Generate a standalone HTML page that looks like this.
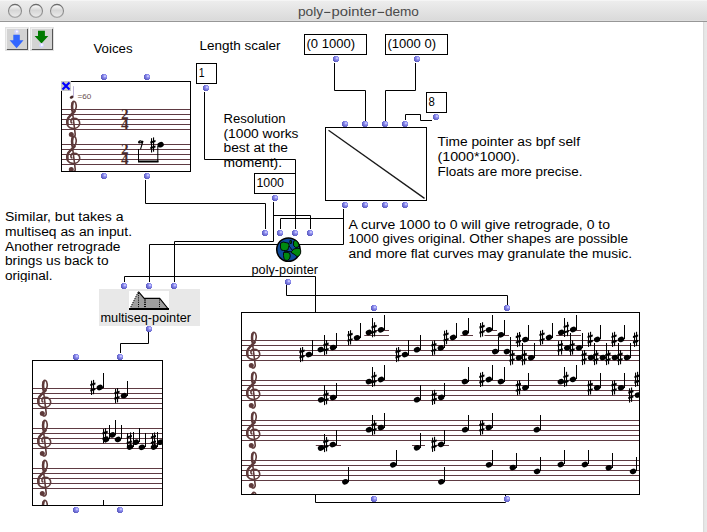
<!DOCTYPE html>
<html><head><meta charset="utf-8"><style>
html,body{margin:0;padding:0;background:#fff;overflow:hidden}
svg{display:block;font-family:"Liberation Sans",sans-serif}
</style></head><body>
<svg width="707" height="532" viewBox="0 0 707 532">

<defs>
<linearGradient id="tb" x1="0" y1="0" x2="0" y2="1">
 <stop offset="0" stop-color="#eeeeee"/><stop offset="1" stop-color="#d9d9d9"/></linearGradient>
<linearGradient id="rs" x1="0" y1="0" x2="1" y2="0">
 <stop offset="0" stop-color="#d6d6d6"/><stop offset="0.4" stop-color="#e6e6e6"/><stop offset="1" stop-color="#e9e9e9"/></linearGradient>
<linearGradient id="tl" x1="0" y1="0" x2="0" y2="1">
 <stop offset="0" stop-color="#cfcfcf"/><stop offset="0.15" stop-color="#f2f2f2"/><stop offset="0.45" stop-color="#d6d6d6"/><stop offset="1" stop-color="#ececec"/></linearGradient>
<linearGradient id="tls" x1="0" y1="0" x2="0" y2="1">
 <stop offset="0" stop-color="#6a6a6a"/><stop offset="1" stop-color="#a8a8a8"/></linearGradient>
<radialGradient id="dot" cx="0.66" cy="0.36" r="0.62">
 <stop offset="0" stop-color="#e4e4ff"/><stop offset="0.4" stop-color="#9090f2"/><stop offset="1" stop-color="#6060c4"/></radialGradient>
</defs>
<rect x="0" y="0" width="707" height="21" fill="url(#tb)"/>
<rect x="0" y="0" width="707" height="1" fill="#f5f5f5"/>
<rect x="0" y="20" width="707" height="1" fill="#dfdfdf"/>
<rect x="0" y="21" width="707" height="1" fill="#979797"/>
<rect x="703" y="22" width="4" height="510" fill="url(#rs)"/>
<circle cx="15" cy="10.9" r="6.5" fill="url(#tl)" stroke="url(#tls)" stroke-width="1.1"/>
<circle cx="36" cy="10.9" r="6.5" fill="url(#tl)" stroke="url(#tls)" stroke-width="1.1"/>
<circle cx="57" cy="10.9" r="6.5" fill="url(#tl)" stroke="url(#tls)" stroke-width="1.1"/>
<text x="297.9" y="15.8" font-size="13.5" fill="#4a4a4a" textLength="25.2" lengthAdjust="spacingAndGlyphs">poly</text>
<rect x="324.2" y="11.9" width="6.2" height="1.1" fill="#4a4a4a"/>
<text x="331.5" y="15.8" font-size="13.5" fill="#4a4a4a" textLength="45.3" lengthAdjust="spacingAndGlyphs">pointer</text>
<rect x="377.6" y="11.9" width="6.6" height="1.1" fill="#4a4a4a"/>
<text x="384.9" y="15.8" font-size="13.5" fill="#4a4a4a" textLength="34" lengthAdjust="spacingAndGlyphs">demo</text>
<rect x="5" y="27" width="24" height="24" fill="#e2e2e2"/>
<rect x="6" y="28" width="22" height="22" fill="#d3d3d3"/>
<rect x="6" y="28" width="21" height="1" fill="#f0f0f0"/>
<rect x="6" y="28" width="1" height="21" fill="#f0f0f0"/>
<rect x="27" y="29" width="1" height="21" fill="#555"/>
<rect x="7" y="49" width="21" height="1" fill="#555"/>
<rect x="30" y="27" width="24" height="24" fill="#e2e2e2"/>
<rect x="31" y="28" width="22" height="22" fill="#d3d3d3"/>
<rect x="31" y="28" width="21" height="1" fill="#f0f0f0"/>
<rect x="31" y="28" width="1" height="21" fill="#f0f0f0"/>
<rect x="52" y="29" width="1" height="21" fill="#555"/>
<rect x="32" y="49" width="21" height="1" fill="#555"/>
<circle cx="16.6" cy="31.8" r="2.4" fill="#d4d4ff"/><circle cx="16.9" cy="31.6" r="1" fill="#fff"/>
<polygon points="13.3,34.7 19.8,34.7 19.8,40.3 23.5,40.3 16.6,48.2 9.6,40.3 13.3,40.3" fill="#3366ff"/>
<polygon points="38,30.8 44.9,30.8 44.9,36 48.3,36 41.5,43.6 34.6,36 38,36" fill="#007a00"/>
<circle cx="41.6" cy="45.3" r="2.4" fill="#d4d4ff"/><circle cx="41.9" cy="45.1" r="1" fill="#fff"/>
<text x="93.5" y="53" font-size="12" fill="#000" textLength="39" lengthAdjust="spacingAndGlyphs">Voices</text>
<text x="199.5" y="50" font-size="12" fill="#000" textLength="81" lengthAdjust="spacingAndGlyphs">Length scaler</text>
<rect x="304.5" y="34.5" width="62" height="20" fill="#fff" stroke="#000" stroke-width="1"/>
<text x="306.5" y="48" font-size="12" fill="#000" textLength="48.5" lengthAdjust="spacingAndGlyphs">(0 1000)</text>
<rect x="385.5" y="34.5" width="62" height="20" fill="#fff" stroke="#000" stroke-width="1"/>
<text x="387.5" y="48" font-size="12" fill="#000" textLength="48.5" lengthAdjust="spacingAndGlyphs">(1000 0)</text>
<rect x="196.5" y="63.5" width="20" height="20" fill="#fff" stroke="#000" stroke-width="1"/>
<text x="198.8" y="76.9" font-size="12" fill="#000" textLength="5.8" lengthAdjust="spacingAndGlyphs">1</text>
<rect x="426.5" y="92.5" width="20" height="20" fill="#fff" stroke="#000" stroke-width="1"/>
<text x="428.6" y="106" font-size="12" fill="#000" textLength="6.3" lengthAdjust="spacingAndGlyphs">8</text>
<rect x="254.5" y="173.5" width="41" height="20" fill="#fff" stroke="#000" stroke-width="1"/>
<text x="256.5" y="187.2" font-size="12" fill="#000" textLength="27.5" lengthAdjust="spacingAndGlyphs">1000</text>
<text x="223.5" y="122.8" font-size="12" fill="#000" textLength="62" lengthAdjust="spacingAndGlyphs">Resolution</text>
<text x="223.5" y="137.6" font-size="12" fill="#000" textLength="75" lengthAdjust="spacingAndGlyphs">(1000 works</text>
<text x="223.5" y="152.4" font-size="12" fill="#000" textLength="64.5" lengthAdjust="spacingAndGlyphs">best at the</text>
<text x="223.5" y="167.2" font-size="12" fill="#000" textLength="58.5" lengthAdjust="spacingAndGlyphs">moment).</text>
<text x="437.5" y="146" font-size="12" fill="#000" textLength="142.5" lengthAdjust="spacingAndGlyphs">Time pointer as bpf self</text>
<text x="437.5" y="161" font-size="12" fill="#000" textLength="82.5" lengthAdjust="spacingAndGlyphs">(1000*1000).</text>
<text x="437.5" y="176" font-size="12" fill="#000" textLength="145" lengthAdjust="spacingAndGlyphs">Floats are more precise.</text>
<text x="5" y="220.8" font-size="12" fill="#000" textLength="118.5" lengthAdjust="spacingAndGlyphs">Similar, but takes a</text>
<text x="5" y="235.7" font-size="12" fill="#000" textLength="127" lengthAdjust="spacingAndGlyphs">multiseq as an input.</text>
<text x="5" y="250.5" font-size="12" fill="#000" textLength="115.5" lengthAdjust="spacingAndGlyphs">Another retrograde</text>
<text x="5" y="265.4" font-size="12" fill="#000" textLength="103.5" lengthAdjust="spacingAndGlyphs">brings us back to</text>
<svg x="0" y="268" width="100" height="14" viewBox="0 268 100 14" overflow="hidden">
<text x="5" y="280.2" font-size="12" fill="#000" textLength="47.5" lengthAdjust="spacingAndGlyphs">original.</text>
</svg>
<text x="348.5" y="228.6" font-size="12" fill="#000" textLength="261.5" lengthAdjust="spacingAndGlyphs">A curve 1000 to 0 will give retrograde, 0 to</text>
<text x="348.5" y="243.4" font-size="12" fill="#000" textLength="279.5" lengthAdjust="spacingAndGlyphs">1000 gives original. Other shapes are possible</text>
<text x="348.5" y="258.2" font-size="12" fill="#000" textLength="283.5" lengthAdjust="spacingAndGlyphs">and more flat curves may granulate the music.</text>
<text x="251.5" y="274.1" font-size="12" fill="#000" textLength="66.5" lengthAdjust="spacingAndGlyphs">poly-pointer</text>
<polyline points="334.5,63.5 334.5,90.5 365.5,90.5 365.5,120.5" fill="none" stroke="#000" stroke-width="1" stroke-linecap="square"/>
<polyline points="415.5,63.5 415.5,90.5 385.5,90.5 385.5,120.5" fill="none" stroke="#000" stroke-width="1" stroke-linecap="square"/>
<polyline points="431.5,120.5 420.5,120.5 420.5,114.5 405.5,114.5 405.5,119.5" fill="none" stroke="#000" stroke-width="1" stroke-linecap="square"/>
<polyline points="204.5,92.5 204.5,159.5 295.5,159.5 295.5,228.5" fill="none" stroke="#000" stroke-width="1" stroke-linecap="square"/>
<polyline points="273.5,202.5 273.5,241.5 174.5,241.5 174.5,281.5" fill="none" stroke="#000" stroke-width="1" stroke-linecap="square"/>
<polyline points="273.5,215.5 310.5,215.5 310.5,228.5" fill="none" stroke="#000" stroke-width="1" stroke-linecap="square"/>
<polyline points="343.5,209.5 343.5,244.5 149.5,244.5 149.5,281.5" fill="none" stroke="#000" stroke-width="1" stroke-linecap="square"/>
<polyline points="343.5,218.5 280.5,218.5 280.5,228.5" fill="none" stroke="#000" stroke-width="1" stroke-linecap="square"/>
<polyline points="145.5,180.5 145.5,203.5 265.5,203.5 265.5,228.5" fill="none" stroke="#000" stroke-width="1" stroke-linecap="square"/>
<polyline points="286.5,285.5 286.5,295.5 507.5,295.5 507.5,304.5" fill="none" stroke="#000" stroke-width="1" stroke-linecap="square"/>
<polyline points="505.5,494.5 505.5,502.5 315.5,502.5 315.5,276.5 124.5,276.5 124.5,281.5" fill="none" stroke="#000" stroke-width="1" stroke-linecap="square"/>
<polyline points="148.5,332.5 148.5,343.5 120.5,343.5 120.5,352.5" fill="none" stroke="#000" stroke-width="1" stroke-linecap="square"/>
<rect x="61.5" y="81.5" width="129" height="90" fill="#fff" stroke="#000" stroke-width="1"/>
<rect x="325.5" y="127.5" width="101" height="73" fill="#fff" stroke="#000" stroke-width="1"/>
<line x1="328.5" y1="130.3" x2="424.5" y2="198.4" stroke="#1a1a1a" stroke-width="1.35"/>
<rect x="32.5" y="360.5" width="130" height="145" fill="#fff" stroke="#000" stroke-width="1"/>
<rect x="241.5" y="312.5" width="398" height="182" fill="#fff" stroke="#000" stroke-width="1"/>
<rect x="99" y="289" width="101" height="37" fill="#e8e8e8"/>
<rect x="129" y="291" width="40" height="19" fill="#fff"/>
<text x="100.5" y="322.2" font-size="12" fill="#000" textLength="90.5" lengthAdjust="spacingAndGlyphs">multiseq-pointer</text>
<svg x="62" y="82" width="128" height="89" viewBox="62 82 128 89" overflow="hidden">
<rect x="62" y="109" width="128" height="1" fill="#5e3a42"/>
<rect x="62" y="114" width="128" height="1" fill="#5e3a42"/>
<rect x="62" y="119" width="128" height="1" fill="#5e3a42"/>
<rect x="62" y="124" width="128" height="1" fill="#5e3a42"/>
<rect x="62" y="129" width="128" height="1" fill="#5e3a42"/>
<rect x="62" y="144" width="128" height="1" fill="#5e3a42"/>
<rect x="62" y="149" width="128" height="1" fill="#5e3a42"/>
<rect x="62" y="154" width="128" height="1" fill="#5e3a42"/>
<rect x="62" y="159" width="128" height="1" fill="#5e3a42"/>
<rect x="62" y="164" width="128" height="1" fill="#5e3a42"/>
<g transform="translate(62,109)"><path d="M10.4,14.3 C8.2,13.6 8.3,10 11.2,9.4 C15,8.9 18,11.5 17.7,14.5 C17.4,18 14,19.6 10.5,19.4 C6.5,19.1 4.6,16 4.9,12.6 C5.2,9 9,6 12,3 C14,0.5 14.6,-3 13.9,-5.5 C13.4,-7.6 11.6,-8.3 10.5,-6.6 C9.3,-4.2 9.6,-1.5 10.4,2.5 L13.2,25 C13.5,27.6 11.5,28.6 9.8,27.6" fill="none" stroke="#5e3a3a" stroke-width="1.6"/><path d="M12.6,2.4 C10,5 7.5,7 6.2,9.2 C5.2,11 5.1,13.5 5.6,15.5 M10.6,-6 C9.8,-4 9.9,-1.5 10.4,1.5" fill="none" stroke="#5e3a3a" stroke-width="2.5" stroke-linecap="round"/><circle cx="9.3" cy="25.6" r="2.5" fill="#5e3a3a"/></g>
<g transform="translate(62,144)"><path d="M10.4,14.3 C8.2,13.6 8.3,10 11.2,9.4 C15,8.9 18,11.5 17.7,14.5 C17.4,18 14,19.6 10.5,19.4 C6.5,19.1 4.6,16 4.9,12.6 C5.2,9 9,6 12,3 C14,0.5 14.6,-3 13.9,-5.5 C13.4,-7.6 11.6,-8.3 10.5,-6.6 C9.3,-4.2 9.6,-1.5 10.4,2.5 L13.2,25 C13.5,27.6 11.5,28.6 9.8,27.6" fill="none" stroke="#5e3a3a" stroke-width="1.6"/><path d="M12.6,2.4 C10,5 7.5,7 6.2,9.2 C5.2,11 5.1,13.5 5.6,15.5 M10.6,-6 C9.8,-4 9.9,-1.5 10.4,1.5" fill="none" stroke="#5e3a3a" stroke-width="2.5" stroke-linecap="round"/><circle cx="9.3" cy="25.6" r="2.5" fill="#5e3a3a"/></g>
<text x="121" y="118.7" font-family="Liberation Serif" font-weight="bold" font-size="15.5" fill="#4a2c2c" textLength="7.6" lengthAdjust="spacingAndGlyphs">2</text>
<text x="121" y="128.9" font-family="Liberation Serif" font-weight="bold" font-size="15" fill="#4a2c2c" textLength="7.6" lengthAdjust="spacingAndGlyphs">4</text>
<text x="121" y="153.7" font-family="Liberation Serif" font-weight="bold" font-size="15.5" fill="#4a2c2c" textLength="7.6" lengthAdjust="spacingAndGlyphs">2</text>
<text x="121" y="163.9" font-family="Liberation Serif" font-weight="bold" font-size="15" fill="#4a2c2c" textLength="7.6" lengthAdjust="spacingAndGlyphs">4</text>
<ellipse cx="71.6" cy="97.2" rx="2" ry="1.4" transform="rotate(-25 71.6 97.2)" fill="#4a2a2a"/>
<rect x="73.1" y="86.2" width="0.6" height="11" fill="#9080c0"/>
<text x="77.5" y="99" font-size="7.5" fill="#6a5050" textLength="13.8" lengthAdjust="spacingAndGlyphs">=60</text>
<path d="M139,142 a1.3,1.3 0 1 1 1.8,1.2 L143,141 L140.5,149.3" fill="none" stroke="#000" stroke-width="1.1"/>
<circle cx="139.4" cy="142.3" r="1.3" fill="#000"/>
<rect x="138" y="149" width="1" height="13" fill="#000"/>
<rect x="138" y="160.5" width="20.5" height="2" fill="#000"/>
<rect x="157.3" y="146" width="1" height="16" fill="#000"/>
<g fill="#000"><rect x="151" y="138.2" width="1.1" height="14.3"/><rect x="153" y="137.4" width="1.1" height="14.3"/><g transform="translate(152.60,145.00)"><polygon points="-2.3,-1.4 2.9,-2.9 2.9,-5.0 -2.3,-3.5"/><polygon points="-2.3,4.0 2.9,2.5 2.9,0.4 -2.3,1.9"/></g></g>
<ellipse cx="160.6" cy="144.7" rx="3.25" ry="2.7" transform="rotate(-22 160.6 144.7)" fill="#000"/>
</svg>
<rect x="61" y="81" width="10" height="10" fill="#c8c8c8"/>
<path d="M62.5,82.5 L69.5,89.5 M69.5,82.5 L62.5,89.5" stroke="#0000ff" stroke-width="2.2"/>
<svg x="242" y="313" width="397" height="181" viewBox="242 313 397 181" overflow="hidden">
<rect x="242" y="340" width="397" height="1" fill="#5e3a42"/>
<rect x="242" y="345" width="397" height="1" fill="#5e3a42"/>
<rect x="242" y="350" width="397" height="1" fill="#5e3a42"/>
<rect x="242" y="355" width="397" height="1" fill="#5e3a42"/>
<rect x="242" y="360" width="397" height="1" fill="#5e3a42"/>
<g transform="translate(242,340)"><path d="M10.4,14.3 C8.2,13.6 8.3,10 11.2,9.4 C15,8.9 18,11.5 17.7,14.5 C17.4,18 14,19.6 10.5,19.4 C6.5,19.1 4.6,16 4.9,12.6 C5.2,9 9,6 12,3 C14,0.5 14.6,-3 13.9,-5.5 C13.4,-7.6 11.6,-8.3 10.5,-6.6 C9.3,-4.2 9.6,-1.5 10.4,2.5 L13.2,25 C13.5,27.6 11.5,28.6 9.8,27.6" fill="none" stroke="#5e3a3a" stroke-width="1.6"/><path d="M12.6,2.4 C10,5 7.5,7 6.2,9.2 C5.2,11 5.1,13.5 5.6,15.5 M10.6,-6 C9.8,-4 9.9,-1.5 10.4,1.5" fill="none" stroke="#5e3a3a" stroke-width="2.5" stroke-linecap="round"/><circle cx="9.3" cy="25.6" r="2.5" fill="#5e3a3a"/></g>
<rect x="242" y="380" width="397" height="1" fill="#5e3a42"/>
<rect x="242" y="385" width="397" height="1" fill="#5e3a42"/>
<rect x="242" y="390" width="397" height="1" fill="#5e3a42"/>
<rect x="242" y="395" width="397" height="1" fill="#5e3a42"/>
<rect x="242" y="400" width="397" height="1" fill="#5e3a42"/>
<g transform="translate(242,380)"><path d="M10.4,14.3 C8.2,13.6 8.3,10 11.2,9.4 C15,8.9 18,11.5 17.7,14.5 C17.4,18 14,19.6 10.5,19.4 C6.5,19.1 4.6,16 4.9,12.6 C5.2,9 9,6 12,3 C14,0.5 14.6,-3 13.9,-5.5 C13.4,-7.6 11.6,-8.3 10.5,-6.6 C9.3,-4.2 9.6,-1.5 10.4,2.5 L13.2,25 C13.5,27.6 11.5,28.6 9.8,27.6" fill="none" stroke="#5e3a3a" stroke-width="1.6"/><path d="M12.6,2.4 C10,5 7.5,7 6.2,9.2 C5.2,11 5.1,13.5 5.6,15.5 M10.6,-6 C9.8,-4 9.9,-1.5 10.4,1.5" fill="none" stroke="#5e3a3a" stroke-width="2.5" stroke-linecap="round"/><circle cx="9.3" cy="25.6" r="2.5" fill="#5e3a3a"/></g>
<rect x="242" y="420" width="397" height="1" fill="#5e3a42"/>
<rect x="242" y="425" width="397" height="1" fill="#5e3a42"/>
<rect x="242" y="430" width="397" height="1" fill="#5e3a42"/>
<rect x="242" y="435" width="397" height="1" fill="#5e3a42"/>
<rect x="242" y="440" width="397" height="1" fill="#5e3a42"/>
<g transform="translate(242,420)"><path d="M10.4,14.3 C8.2,13.6 8.3,10 11.2,9.4 C15,8.9 18,11.5 17.7,14.5 C17.4,18 14,19.6 10.5,19.4 C6.5,19.1 4.6,16 4.9,12.6 C5.2,9 9,6 12,3 C14,0.5 14.6,-3 13.9,-5.5 C13.4,-7.6 11.6,-8.3 10.5,-6.6 C9.3,-4.2 9.6,-1.5 10.4,2.5 L13.2,25 C13.5,27.6 11.5,28.6 9.8,27.6" fill="none" stroke="#5e3a3a" stroke-width="1.6"/><path d="M12.6,2.4 C10,5 7.5,7 6.2,9.2 C5.2,11 5.1,13.5 5.6,15.5 M10.6,-6 C9.8,-4 9.9,-1.5 10.4,1.5" fill="none" stroke="#5e3a3a" stroke-width="2.5" stroke-linecap="round"/><circle cx="9.3" cy="25.6" r="2.5" fill="#5e3a3a"/></g>
<rect x="242" y="460" width="397" height="1" fill="#5e3a42"/>
<rect x="242" y="465" width="397" height="1" fill="#5e3a42"/>
<rect x="242" y="470" width="397" height="1" fill="#5e3a42"/>
<rect x="242" y="475" width="397" height="1" fill="#5e3a42"/>
<rect x="242" y="480" width="397" height="1" fill="#5e3a42"/>
<g transform="translate(242,460)"><path d="M10.4,14.3 C8.2,13.6 8.3,10 11.2,9.4 C15,8.9 18,11.5 17.7,14.5 C17.4,18 14,19.6 10.5,19.4 C6.5,19.1 4.6,16 4.9,12.6 C5.2,9 9,6 12,3 C14,0.5 14.6,-3 13.9,-5.5 C13.4,-7.6 11.6,-8.3 10.5,-6.6 C9.3,-4.2 9.6,-1.5 10.4,2.5 L13.2,25 C13.5,27.6 11.5,28.6 9.8,27.6" fill="none" stroke="#5e3a3a" stroke-width="1.6"/><path d="M12.6,2.4 C10,5 7.5,7 6.2,9.2 C5.2,11 5.1,13.5 5.6,15.5 M10.6,-6 C9.8,-4 9.9,-1.5 10.4,1.5" fill="none" stroke="#5e3a3a" stroke-width="2.5" stroke-linecap="round"/><circle cx="9.3" cy="25.6" r="2.5" fill="#5e3a3a"/></g>
<g transform="translate(242,500)"><path d="M10.4,14.3 C8.2,13.6 8.3,10 11.2,9.4 C15,8.9 18,11.5 17.7,14.5 C17.4,18 14,19.6 10.5,19.4 C6.5,19.1 4.6,16 4.9,12.6 C5.2,9 9,6 12,3 C14,0.5 14.6,-3 13.9,-5.5 C13.4,-7.6 11.6,-8.3 10.5,-6.6 C9.3,-4.2 9.6,-1.5 10.4,2.5 L13.2,25 C13.5,27.6 11.5,28.6 9.8,27.6" fill="none" stroke="#5e3a3a" stroke-width="1.6"/><path d="M12.6,2.4 C10,5 7.5,7 6.2,9.2 C5.2,11 5.1,13.5 5.6,15.5 M10.6,-6 C9.8,-4 9.9,-1.5 10.4,1.5" fill="none" stroke="#5e3a3a" stroke-width="2.5" stroke-linecap="round"/><circle cx="9.3" cy="25.6" r="2.5" fill="#5e3a3a"/></g>
<rect x="364.3" y="335" width="24.69999999999999" height="1" fill="#5e3a42"/>
<rect x="460.4" y="335" width="12.600000000000023" height="1" fill="#5e3a42"/>
<rect x="484.5" y="335" width="24.5" height="1" fill="#5e3a42"/>
<rect x="556.1" y="335" width="24.899999999999977" height="1" fill="#5e3a42"/>
<rect x="375" y="330" width="14" height="1" fill="#5e3a42"/>
<rect x="484" y="330" width="13" height="1" fill="#5e3a42"/>
<rect x="567.8" y="330" width="13.200000000000045" height="1" fill="#5e3a42"/>
<rect x="315.8" y="445" width="25.19999999999999" height="1" fill="#5e3a42"/>
<rect x="412" y="445" width="13" height="1" fill="#5e3a42"/>
<rect x="436.2" y="445" width="12.800000000000011" height="1" fill="#5e3a42"/>
<g fill="#000"><rect x="300" y="347.8" width="1.1" height="14.3"/><rect x="302" y="347.0" width="1.1" height="14.3"/><g transform="translate(301.65,354.60)"><polygon points="-2.3,-1.4 2.9,-2.9 2.9,-5.0 -2.3,-3.5"/><polygon points="-2.3,4.0 2.9,2.5 2.9,0.4 -2.3,1.9"/></g></g>
<ellipse cx="308.9" cy="354.6" rx="3.25" ry="2.7" transform="rotate(-22 308.9 354.6)" fill="#000"/>
<rect x="312" y="340" width="1" height="15" fill="#000"/>
<ellipse cx="320.8" cy="349.6" rx="3.25" ry="2.7" transform="rotate(-22 320.8 349.6)" fill="#000"/>
<rect x="324" y="335" width="1" height="15" fill="#000"/>
<g fill="#000"><rect x="324" y="340.8" width="1.1" height="14.3"/><rect x="326" y="340.0" width="1.1" height="14.3"/><g transform="translate(325.75,347.60)"><polygon points="-2.3,-1.4 2.9,-2.9 2.9,-5.0 -2.3,-3.5"/><polygon points="-2.3,4.0 2.9,2.5 2.9,0.4 -2.3,1.9"/></g></g>
<ellipse cx="333" cy="347.6" rx="3.25" ry="2.7" transform="rotate(-22 333 347.6)" fill="#000"/>
<rect x="336" y="333" width="1" height="15" fill="#000"/>
<g fill="#000"><rect x="348" y="331.0" width="1.1" height="14.3"/><rect x="350" y="330.2" width="1.1" height="14.3"/><g transform="translate(349.75,337.80)"><polygon points="-2.3,-1.4 2.9,-2.9 2.9,-5.0 -2.3,-3.5"/><polygon points="-2.3,4.0 2.9,2.5 2.9,0.4 -2.3,1.9"/></g></g>
<ellipse cx="357" cy="337.8" rx="3.25" ry="2.7" transform="rotate(-22 357 337.8)" fill="#000"/>
<rect x="360" y="323" width="1" height="15" fill="#000"/>
<ellipse cx="368.9" cy="332.5" rx="3.25" ry="2.7" transform="rotate(-22 368.9 332.5)" fill="#000"/>
<rect x="372" y="318" width="1" height="14" fill="#000"/>
<g fill="#000"><rect x="372" y="323.0" width="1.1" height="14.3"/><rect x="374" y="322.2" width="1.1" height="14.3"/><g transform="translate(373.75,329.80)"><polygon points="-2.3,-1.4 2.9,-2.9 2.9,-5.0 -2.3,-3.5"/><polygon points="-2.3,4.0 2.9,2.5 2.9,0.4 -2.3,1.9"/></g></g>
<ellipse cx="381" cy="329.8" rx="3.25" ry="2.7" transform="rotate(-22 381 329.8)" fill="#000"/>
<rect x="384" y="315" width="1" height="15" fill="#000"/>
<g fill="#000"><rect x="396" y="347.8" width="1.1" height="14.3"/><rect x="398" y="347.0" width="1.1" height="14.3"/><g transform="translate(397.75,354.60)"><polygon points="-2.3,-1.4 2.9,-2.9 2.9,-5.0 -2.3,-3.5"/><polygon points="-2.3,4.0 2.9,2.5 2.9,0.4 -2.3,1.9"/></g></g>
<ellipse cx="405" cy="354.6" rx="3.25" ry="2.7" transform="rotate(-22 405 354.6)" fill="#000"/>
<rect x="408" y="340" width="1" height="15" fill="#000"/>
<ellipse cx="417" cy="349.7" rx="3.25" ry="2.7" transform="rotate(-22 417 349.7)" fill="#000"/>
<rect x="420" y="335" width="1" height="15" fill="#000"/>
<g fill="#000"><rect x="432" y="341.2" width="1.1" height="14.3"/><rect x="434" y="340.4" width="1.1" height="14.3"/><g transform="translate(433.55,348.00)"><polygon points="-2.3,-1.4 2.9,-2.9 2.9,-5.0 -2.3,-3.5"/><polygon points="-2.3,4.0 2.9,2.5 2.9,0.4 -2.3,1.9"/></g></g>
<ellipse cx="440.8" cy="348" rx="3.25" ry="2.7" transform="rotate(-22 440.8 348)" fill="#000"/>
<rect x="444" y="334" width="1" height="14" fill="#000"/>
<g fill="#000"><rect x="444" y="330.7" width="1.1" height="14.3"/><rect x="446" y="329.9" width="1.1" height="14.3"/><g transform="translate(445.75,337.50)"><polygon points="-2.3,-1.4 2.9,-2.9 2.9,-5.0 -2.3,-3.5"/><polygon points="-2.3,4.0 2.9,2.5 2.9,0.4 -2.3,1.9"/></g></g>
<ellipse cx="453" cy="337.5" rx="3.25" ry="2.7" transform="rotate(-22 453 337.5)" fill="#000"/>
<rect x="456" y="323" width="1" height="15" fill="#000"/>
<ellipse cx="465.4" cy="332.8" rx="3.25" ry="2.7" transform="rotate(-22 465.4 332.8)" fill="#000"/>
<rect x="468" y="318" width="1" height="15" fill="#000"/>
<g fill="#000"><rect x="480" y="323.0" width="1.1" height="14.3"/><rect x="482" y="322.2" width="1.1" height="14.3"/><g transform="translate(481.75,329.80)"><polygon points="-2.3,-1.4 2.9,-2.9 2.9,-5.0 -2.3,-3.5"/><polygon points="-2.3,4.0 2.9,2.5 2.9,0.4 -2.3,1.9"/></g></g>
<ellipse cx="489" cy="329.8" rx="3.25" ry="2.7" transform="rotate(-22 489 329.8)" fill="#000"/>
<rect x="492" y="315" width="1" height="15" fill="#000"/>
<ellipse cx="500.9" cy="334.8" rx="3.25" ry="2.7" transform="rotate(-22 500.9 334.8)" fill="#000"/>
<rect x="504" y="320" width="1" height="15" fill="#000"/>
<ellipse cx="495.2" cy="351.6" rx="3.25" ry="2.7" transform="rotate(-22 495.2 351.6)" fill="#000"/>
<rect x="498" y="337" width="1" height="15" fill="#000"/>
<ellipse cx="506.9" cy="351.6" rx="3.25" ry="2.7" transform="rotate(-22 506.9 351.6)" fill="#000"/>
<rect x="510" y="337" width="1" height="15" fill="#000"/>
<g fill="#000"><rect x="510" y="351.0" width="1.1" height="14.3"/><rect x="512" y="350.2" width="1.1" height="14.3"/><g transform="translate(511.75,357.80)"><polygon points="-2.3,-1.4 2.9,-2.9 2.9,-5.0 -2.3,-3.5"/><polygon points="-2.3,4.0 2.9,2.5 2.9,0.4 -2.3,1.9"/></g></g>
<ellipse cx="519" cy="357.8" rx="3.25" ry="2.7" transform="rotate(-22 519 357.8)" fill="#000"/>
<rect x="522" y="343" width="1" height="15" fill="#000"/>
<g fill="#000"><rect x="517" y="332.8" width="1.1" height="14.3"/><rect x="519" y="332.0" width="1.1" height="14.3"/><g transform="translate(518.05,339.60)"><polygon points="-2.3,-1.4 2.9,-2.9 2.9,-5.0 -2.3,-3.5"/><polygon points="-2.3,4.0 2.9,2.5 2.9,0.4 -2.3,1.9"/></g></g>
<ellipse cx="525.3" cy="339.6" rx="3.25" ry="2.7" transform="rotate(-22 525.3 339.6)" fill="#000"/>
<rect x="528" y="325" width="1" height="15" fill="#000"/>
<g fill="#000"><rect x="522" y="351.0" width="1.1" height="14.3"/><rect x="524" y="350.2" width="1.1" height="14.3"/><g transform="translate(523.85,357.80)"><polygon points="-2.3,-1.4 2.9,-2.9 2.9,-5.0 -2.3,-3.5"/><polygon points="-2.3,4.0 2.9,2.5 2.9,0.4 -2.3,1.9"/></g></g>
<ellipse cx="531.1" cy="357.8" rx="3.25" ry="2.7" transform="rotate(-22 531.1 357.8)" fill="#000"/>
<rect x="534" y="343" width="1" height="15" fill="#000"/>
<g fill="#000"><rect x="540" y="330.7" width="1.1" height="14.3"/><rect x="542" y="329.9" width="1.1" height="14.3"/><g transform="translate(541.75,337.50)"><polygon points="-2.3,-1.4 2.9,-2.9 2.9,-5.0 -2.3,-3.5"/><polygon points="-2.3,4.0 2.9,2.5 2.9,0.4 -2.3,1.9"/></g></g>
<ellipse cx="549" cy="337.5" rx="3.25" ry="2.7" transform="rotate(-22 549 337.5)" fill="#000"/>
<rect x="552" y="323" width="1" height="15" fill="#000"/>
<ellipse cx="561.2" cy="332.5" rx="3.25" ry="2.7" transform="rotate(-22 561.2 332.5)" fill="#000"/>
<rect x="564" y="318" width="1" height="14" fill="#000"/>
<g fill="#000"><rect x="564" y="322.7" width="1.1" height="14.3"/><rect x="567" y="321.9" width="1.1" height="14.3"/><g transform="translate(565.95,329.50)"><polygon points="-2.3,-1.4 2.9,-2.9 2.9,-5.0 -2.3,-3.5"/><polygon points="-2.3,4.0 2.9,2.5 2.9,0.4 -2.3,1.9"/></g></g>
<ellipse cx="573.2" cy="329.5" rx="3.25" ry="2.7" transform="rotate(-22 573.2 329.5)" fill="#000"/>
<rect x="576" y="315" width="1" height="15" fill="#000"/>
<g fill="#000"><rect x="558" y="341.1" width="1.1" height="14.3"/><rect x="561" y="340.3" width="1.1" height="14.3"/><g transform="translate(559.95,347.90)"><polygon points="-2.3,-1.4 2.9,-2.9 2.9,-5.0 -2.3,-3.5"/><polygon points="-2.3,4.0 2.9,2.5 2.9,0.4 -2.3,1.9"/></g></g>
<ellipse cx="567.2" cy="347.9" rx="3.25" ry="2.7" transform="rotate(-22 567.2 347.9)" fill="#000"/>
<rect x="570" y="333" width="1" height="15" fill="#000"/>
<g fill="#000"><rect x="570" y="341.1" width="1.1" height="14.3"/><rect x="572" y="340.3" width="1.1" height="14.3"/><g transform="translate(571.75,347.90)"><polygon points="-2.3,-1.4 2.9,-2.9 2.9,-5.0 -2.3,-3.5"/><polygon points="-2.3,4.0 2.9,2.5 2.9,0.4 -2.3,1.9"/></g></g>
<ellipse cx="579" cy="347.9" rx="3.25" ry="2.7" transform="rotate(-22 579 347.9)" fill="#000"/>
<rect x="582" y="333" width="1" height="15" fill="#000"/>
<g fill="#000"><rect x="582" y="350.8" width="1.1" height="14.3"/><rect x="584" y="350.0" width="1.1" height="14.3"/><g transform="translate(583.75,357.60)"><polygon points="-2.3,-1.4 2.9,-2.9 2.9,-5.0 -2.3,-3.5"/><polygon points="-2.3,4.0 2.9,2.5 2.9,0.4 -2.3,1.9"/></g></g>
<ellipse cx="591" cy="357.6" rx="3.25" ry="2.7" transform="rotate(-22 591 357.6)" fill="#000"/>
<rect x="594" y="343" width="1" height="15" fill="#000"/>
<g fill="#000"><rect x="588" y="332.6" width="1.1" height="14.3"/><rect x="590" y="331.8" width="1.1" height="14.3"/><g transform="translate(589.85,339.40)"><polygon points="-2.3,-1.4 2.9,-2.9 2.9,-5.0 -2.3,-3.5"/><polygon points="-2.3,4.0 2.9,2.5 2.9,0.4 -2.3,1.9"/></g></g>
<ellipse cx="597.1" cy="339.4" rx="3.25" ry="2.7" transform="rotate(-22 597.1 339.4)" fill="#000"/>
<rect x="600" y="325" width="1" height="14" fill="#000"/>
<g fill="#000"><rect x="594" y="350.8" width="1.1" height="14.3"/><rect x="596" y="350.0" width="1.1" height="14.3"/><g transform="translate(595.55,357.60)"><polygon points="-2.3,-1.4 2.9,-2.9 2.9,-5.0 -2.3,-3.5"/><polygon points="-2.3,4.0 2.9,2.5 2.9,0.4 -2.3,1.9"/></g></g>
<ellipse cx="602.8" cy="357.6" rx="3.25" ry="2.7" transform="rotate(-22 602.8 357.6)" fill="#000"/>
<rect x="606" y="343" width="1" height="15" fill="#000"/>
<g fill="#000"><rect x="606" y="350.8" width="1.1" height="14.3"/><rect x="608" y="350.0" width="1.1" height="14.3"/><g transform="translate(607.65,357.60)"><polygon points="-2.3,-1.4 2.9,-2.9 2.9,-5.0 -2.3,-3.5"/><polygon points="-2.3,4.0 2.9,2.5 2.9,0.4 -2.3,1.9"/></g></g>
<ellipse cx="614.9" cy="357.6" rx="3.25" ry="2.7" transform="rotate(-22 614.9 357.6)" fill="#000"/>
<rect x="618" y="343" width="1" height="15" fill="#000"/>
<g fill="#000"><rect x="612" y="332.6" width="1.1" height="14.3"/><rect x="614" y="331.8" width="1.1" height="14.3"/><g transform="translate(613.75,339.40)"><polygon points="-2.3,-1.4 2.9,-2.9 2.9,-5.0 -2.3,-3.5"/><polygon points="-2.3,4.0 2.9,2.5 2.9,0.4 -2.3,1.9"/></g></g>
<ellipse cx="621" cy="339.4" rx="3.25" ry="2.7" transform="rotate(-22 621 339.4)" fill="#000"/>
<rect x="624" y="325" width="1" height="14" fill="#000"/>
<g fill="#000"><rect x="618" y="350.8" width="1.1" height="14.3"/><rect x="620" y="350.0" width="1.1" height="14.3"/><g transform="translate(619.75,357.60)"><polygon points="-2.3,-1.4 2.9,-2.9 2.9,-5.0 -2.3,-3.5"/><polygon points="-2.3,4.0 2.9,2.5 2.9,0.4 -2.3,1.9"/></g></g>
<ellipse cx="627" cy="357.6" rx="3.25" ry="2.7" transform="rotate(-22 627 357.6)" fill="#000"/>
<rect x="630" y="343" width="1" height="15" fill="#000"/>
<g fill="#000"><rect x="634" y="332.6" width="1.1" height="14.3"/><rect x="636" y="331.8" width="1.1" height="14.3"/><g transform="translate(635.25,339.40)"><polygon points="-2.3,-1.4 2.9,-2.9 2.9,-5.0 -2.3,-3.5"/><polygon points="-2.3,4.0 2.9,2.5 2.9,0.4 -2.3,1.9"/></g></g>
<ellipse cx="642.5" cy="339.4" rx="3.25" ry="2.7" transform="rotate(-22 642.5 339.4)" fill="#000"/>
<rect x="645" y="325" width="1" height="14" fill="#000"/>
<ellipse cx="321.1" cy="399.8" rx="3.25" ry="2.7" transform="rotate(-22 321.1 399.8)" fill="#000"/>
<rect x="324" y="385" width="1" height="15" fill="#000"/>
<g fill="#000"><rect x="324" y="390.8" width="1.1" height="14.3"/><rect x="326" y="390.0" width="1.1" height="14.3"/><g transform="translate(325.75,397.60)"><polygon points="-2.3,-1.4 2.9,-2.9 2.9,-5.0 -2.3,-3.5"/><polygon points="-2.3,4.0 2.9,2.5 2.9,0.4 -2.3,1.9"/></g></g>
<ellipse cx="333" cy="397.6" rx="3.25" ry="2.7" transform="rotate(-22 333 397.6)" fill="#000"/>
<rect x="336" y="383" width="1" height="15" fill="#000"/>
<ellipse cx="368.9" cy="381.6" rx="3.25" ry="2.7" transform="rotate(-22 368.9 381.6)" fill="#000"/>
<rect x="372" y="367" width="1" height="15" fill="#000"/>
<g fill="#000"><rect x="372" y="372.7" width="1.1" height="14.3"/><rect x="374" y="371.9" width="1.1" height="14.3"/><g transform="translate(373.75,379.50)"><polygon points="-2.3,-1.4 2.9,-2.9 2.9,-5.0 -2.3,-3.5"/><polygon points="-2.3,4.0 2.9,2.5 2.9,0.4 -2.3,1.9"/></g></g>
<ellipse cx="381" cy="379.5" rx="3.25" ry="2.7" transform="rotate(-22 381 379.5)" fill="#000"/>
<rect x="384" y="365" width="1" height="15" fill="#000"/>
<ellipse cx="417" cy="399.7" rx="3.25" ry="2.7" transform="rotate(-22 417 399.7)" fill="#000"/>
<rect x="420" y="385" width="1" height="15" fill="#000"/>
<g fill="#000"><rect x="432" y="390.6" width="1.1" height="14.3"/><rect x="434" y="389.8" width="1.1" height="14.3"/><g transform="translate(433.85,397.40)"><polygon points="-2.3,-1.4 2.9,-2.9 2.9,-5.0 -2.3,-3.5"/><polygon points="-2.3,4.0 2.9,2.5 2.9,0.4 -2.3,1.9"/></g></g>
<ellipse cx="441.1" cy="397.4" rx="3.25" ry="2.7" transform="rotate(-22 441.1 397.4)" fill="#000"/>
<rect x="444" y="383" width="1" height="14" fill="#000"/>
<ellipse cx="464.9" cy="381.6" rx="3.25" ry="2.7" transform="rotate(-22 464.9 381.6)" fill="#000"/>
<rect x="468" y="367" width="1" height="15" fill="#000"/>
<g fill="#000"><rect x="480" y="372.7" width="1.1" height="14.3"/><rect x="482" y="371.9" width="1.1" height="14.3"/><g transform="translate(481.55,379.50)"><polygon points="-2.3,-1.4 2.9,-2.9 2.9,-5.0 -2.3,-3.5"/><polygon points="-2.3,4.0 2.9,2.5 2.9,0.4 -2.3,1.9"/></g></g>
<ellipse cx="488.8" cy="379.5" rx="3.25" ry="2.7" transform="rotate(-22 488.8 379.5)" fill="#000"/>
<rect x="492" y="365" width="1" height="15" fill="#000"/>
<ellipse cx="500.9" cy="381.6" rx="3.25" ry="2.7" transform="rotate(-22 500.9 381.6)" fill="#000"/>
<rect x="504" y="367" width="1" height="15" fill="#000"/>
<g fill="#000"><rect x="517" y="381.0" width="1.1" height="14.3"/><rect x="519" y="380.2" width="1.1" height="14.3"/><g transform="translate(518.05,387.80)"><polygon points="-2.3,-1.4 2.9,-2.9 2.9,-5.0 -2.3,-3.5"/><polygon points="-2.3,4.0 2.9,2.5 2.9,0.4 -2.3,1.9"/></g></g>
<ellipse cx="525.3" cy="387.8" rx="3.25" ry="2.7" transform="rotate(-22 525.3 387.8)" fill="#000"/>
<rect x="528" y="373" width="1" height="15" fill="#000"/>
<ellipse cx="560.8" cy="381.7" rx="3.25" ry="2.7" transform="rotate(-22 560.8 381.7)" fill="#000"/>
<rect x="564" y="367" width="1" height="15" fill="#000"/>
<g fill="#000"><rect x="564" y="372.6" width="1.1" height="14.3"/><rect x="566" y="371.8" width="1.1" height="14.3"/><g transform="translate(565.65,379.40)"><polygon points="-2.3,-1.4 2.9,-2.9 2.9,-5.0 -2.3,-3.5"/><polygon points="-2.3,4.0 2.9,2.5 2.9,0.4 -2.3,1.9"/></g></g>
<ellipse cx="572.9" cy="379.4" rx="3.25" ry="2.7" transform="rotate(-22 572.9 379.4)" fill="#000"/>
<rect x="576" y="365" width="1" height="14" fill="#000"/>
<g fill="#000"><rect x="588" y="381.0" width="1.1" height="14.3"/><rect x="590" y="380.2" width="1.1" height="14.3"/><g transform="translate(589.85,387.80)"><polygon points="-2.3,-1.4 2.9,-2.9 2.9,-5.0 -2.3,-3.5"/><polygon points="-2.3,4.0 2.9,2.5 2.9,0.4 -2.3,1.9"/></g></g>
<ellipse cx="597.1" cy="387.8" rx="3.25" ry="2.7" transform="rotate(-22 597.1 387.8)" fill="#000"/>
<rect x="600" y="373" width="1" height="15" fill="#000"/>
<g fill="#000"><rect x="612" y="381.0" width="1.1" height="14.3"/><rect x="614" y="380.2" width="1.1" height="14.3"/><g transform="translate(613.75,387.80)"><polygon points="-2.3,-1.4 2.9,-2.9 2.9,-5.0 -2.3,-3.5"/><polygon points="-2.3,4.0 2.9,2.5 2.9,0.4 -2.3,1.9"/></g></g>
<ellipse cx="621" cy="387.8" rx="3.25" ry="2.7" transform="rotate(-22 621 387.8)" fill="#000"/>
<rect x="624" y="373" width="1" height="15" fill="#000"/>
<g fill="#000"><rect x="629" y="388.3" width="1.1" height="14.3"/><rect x="631" y="387.5" width="1.1" height="14.3"/><g transform="translate(630.55,395.10)"><polygon points="-2.3,-1.4 2.9,-2.9 2.9,-5.0 -2.3,-3.5"/><polygon points="-2.3,4.0 2.9,2.5 2.9,0.4 -2.3,1.9"/></g></g>
<ellipse cx="637.8" cy="395.1" rx="3.25" ry="2.7" transform="rotate(-22 637.8 395.1)" fill="#000"/>
<rect x="641" y="381" width="1" height="14" fill="#000"/>
<g fill="#000"><rect x="635" y="372.6" width="1.1" height="14.3"/><rect x="637" y="371.8" width="1.1" height="14.3"/><g transform="translate(636.75,379.40)"><polygon points="-2.3,-1.4 2.9,-2.9 2.9,-5.0 -2.3,-3.5"/><polygon points="-2.3,4.0 2.9,2.5 2.9,0.4 -2.3,1.9"/></g></g>
<ellipse cx="644" cy="379.4" rx="3.25" ry="2.7" transform="rotate(-22 644 379.4)" fill="#000"/>
<rect x="647" y="365" width="1" height="14" fill="#000"/>
<ellipse cx="321" cy="448" rx="3.25" ry="2.7" transform="rotate(-22 321 448)" fill="#000"/>
<rect x="324" y="434" width="1" height="14" fill="#000"/>
<g fill="#000"><rect x="324" y="437.8" width="1.1" height="14.3"/><rect x="326" y="437.0" width="1.1" height="14.3"/><g transform="translate(325.55,444.60)"><polygon points="-2.3,-1.4 2.9,-2.9 2.9,-5.0 -2.3,-3.5"/><polygon points="-2.3,4.0 2.9,2.5 2.9,0.4 -2.3,1.9"/></g></g>
<ellipse cx="332.8" cy="444.6" rx="3.25" ry="2.7" transform="rotate(-22 332.8 444.6)" fill="#000"/>
<rect x="336" y="430" width="1" height="15" fill="#000"/>
<ellipse cx="369" cy="429.7" rx="3.25" ry="2.7" transform="rotate(-22 369 429.7)" fill="#000"/>
<rect x="372" y="415" width="1" height="15" fill="#000"/>
<g fill="#000"><rect x="372" y="420.8" width="1.1" height="14.3"/><rect x="374" y="420.0" width="1.1" height="14.3"/><g transform="translate(373.65,427.60)"><polygon points="-2.3,-1.4 2.9,-2.9 2.9,-5.0 -2.3,-3.5"/><polygon points="-2.3,4.0 2.9,2.5 2.9,0.4 -2.3,1.9"/></g></g>
<ellipse cx="380.9" cy="427.6" rx="3.25" ry="2.7" transform="rotate(-22 380.9 427.6)" fill="#000"/>
<rect x="384" y="413" width="1" height="15" fill="#000"/>
<ellipse cx="417" cy="447.8" rx="3.25" ry="2.7" transform="rotate(-22 417 447.8)" fill="#000"/>
<rect x="420" y="433" width="1" height="15" fill="#000"/>
<g fill="#000"><rect x="432" y="437.6" width="1.1" height="14.3"/><rect x="434" y="436.8" width="1.1" height="14.3"/><g transform="translate(433.75,444.40)"><polygon points="-2.3,-1.4 2.9,-2.9 2.9,-5.0 -2.3,-3.5"/><polygon points="-2.3,4.0 2.9,2.5 2.9,0.4 -2.3,1.9"/></g></g>
<ellipse cx="441" cy="444.4" rx="3.25" ry="2.7" transform="rotate(-22 441 444.4)" fill="#000"/>
<rect x="444" y="430" width="1" height="14" fill="#000"/>
<ellipse cx="465.1" cy="429.7" rx="3.25" ry="2.7" transform="rotate(-22 465.1 429.7)" fill="#000"/>
<rect x="468" y="415" width="1" height="15" fill="#000"/>
<g fill="#000"><rect x="480" y="420.8" width="1.1" height="14.3"/><rect x="482" y="420.0" width="1.1" height="14.3"/><g transform="translate(481.55,427.60)"><polygon points="-2.3,-1.4 2.9,-2.9 2.9,-5.0 -2.3,-3.5"/><polygon points="-2.3,4.0 2.9,2.5 2.9,0.4 -2.3,1.9"/></g></g>
<ellipse cx="488.8" cy="427.6" rx="3.25" ry="2.7" transform="rotate(-22 488.8 427.6)" fill="#000"/>
<rect x="492" y="413" width="1" height="15" fill="#000"/>
<ellipse cx="536.8" cy="429.7" rx="3.25" ry="2.7" transform="rotate(-22 536.8 429.7)" fill="#000"/>
<rect x="540" y="415" width="1" height="15" fill="#000"/>
<ellipse cx="345.3" cy="481.8" rx="3.25" ry="2.7" transform="rotate(-22 345.3 481.8)" fill="#000"/>
<rect x="348" y="467" width="1" height="15" fill="#000"/>
<ellipse cx="393.2" cy="464.8" rx="3.25" ry="2.7" transform="rotate(-22 393.2 464.8)" fill="#000"/>
<rect x="396" y="450" width="1" height="15" fill="#000"/>
<ellipse cx="441.3" cy="481.8" rx="3.25" ry="2.7" transform="rotate(-22 441.3 481.8)" fill="#000"/>
<rect x="444" y="467" width="1" height="15" fill="#000"/>
<ellipse cx="489" cy="464.8" rx="3.25" ry="2.7" transform="rotate(-22 489 464.8)" fill="#000"/>
<rect x="492" y="450" width="1" height="15" fill="#000"/>
<ellipse cx="512.8" cy="467.6" rx="3.25" ry="2.7" transform="rotate(-22 512.8 467.6)" fill="#000"/>
<rect x="516" y="453" width="1" height="15" fill="#000"/>
<ellipse cx="537" cy="471.4" rx="3.25" ry="2.7" transform="rotate(-22 537 471.4)" fill="#000"/>
<rect x="540" y="457" width="1" height="14" fill="#000"/>
<ellipse cx="560.8" cy="464.5" rx="3.25" ry="2.7" transform="rotate(-22 560.8 464.5)" fill="#000"/>
<rect x="564" y="450" width="1" height="14" fill="#000"/>
<ellipse cx="584.9" cy="464.5" rx="3.25" ry="2.7" transform="rotate(-22 584.9 464.5)" fill="#000"/>
<rect x="588" y="450" width="1" height="14" fill="#000"/>
<ellipse cx="608.8" cy="467.8" rx="3.25" ry="2.7" transform="rotate(-22 608.8 467.8)" fill="#000"/>
<rect x="612" y="453" width="1" height="15" fill="#000"/>
<ellipse cx="633" cy="471.4" rx="3.25" ry="2.7" transform="rotate(-22 633 471.4)" fill="#000"/>
<rect x="636" y="457" width="1" height="14" fill="#000"/>
</svg>
<svg x="33" y="361" width="129" height="144" viewBox="33 361 129 144" overflow="hidden">
<rect x="33" y="388" width="129" height="1" fill="#5e3a42"/>
<rect x="33" y="393" width="129" height="1" fill="#5e3a42"/>
<rect x="33" y="398" width="129" height="1" fill="#5e3a42"/>
<rect x="33" y="403" width="129" height="1" fill="#5e3a42"/>
<rect x="33" y="408" width="129" height="1" fill="#5e3a42"/>
<g transform="translate(33,388)"><path d="M10.4,14.3 C8.2,13.6 8.3,10 11.2,9.4 C15,8.9 18,11.5 17.7,14.5 C17.4,18 14,19.6 10.5,19.4 C6.5,19.1 4.6,16 4.9,12.6 C5.2,9 9,6 12,3 C14,0.5 14.6,-3 13.9,-5.5 C13.4,-7.6 11.6,-8.3 10.5,-6.6 C9.3,-4.2 9.6,-1.5 10.4,2.5 L13.2,25 C13.5,27.6 11.5,28.6 9.8,27.6" fill="none" stroke="#5e3a3a" stroke-width="1.6"/><path d="M12.6,2.4 C10,5 7.5,7 6.2,9.2 C5.2,11 5.1,13.5 5.6,15.5 M10.6,-6 C9.8,-4 9.9,-1.5 10.4,1.5" fill="none" stroke="#5e3a3a" stroke-width="2.5" stroke-linecap="round"/><circle cx="9.3" cy="25.6" r="2.5" fill="#5e3a3a"/></g>
<rect x="33" y="428" width="129" height="1" fill="#5e3a42"/>
<rect x="33" y="433" width="129" height="1" fill="#5e3a42"/>
<rect x="33" y="438" width="129" height="1" fill="#5e3a42"/>
<rect x="33" y="443" width="129" height="1" fill="#5e3a42"/>
<rect x="33" y="448" width="129" height="1" fill="#5e3a42"/>
<g transform="translate(33,428)"><path d="M10.4,14.3 C8.2,13.6 8.3,10 11.2,9.4 C15,8.9 18,11.5 17.7,14.5 C17.4,18 14,19.6 10.5,19.4 C6.5,19.1 4.6,16 4.9,12.6 C5.2,9 9,6 12,3 C14,0.5 14.6,-3 13.9,-5.5 C13.4,-7.6 11.6,-8.3 10.5,-6.6 C9.3,-4.2 9.6,-1.5 10.4,2.5 L13.2,25 C13.5,27.6 11.5,28.6 9.8,27.6" fill="none" stroke="#5e3a3a" stroke-width="1.6"/><path d="M12.6,2.4 C10,5 7.5,7 6.2,9.2 C5.2,11 5.1,13.5 5.6,15.5 M10.6,-6 C9.8,-4 9.9,-1.5 10.4,1.5" fill="none" stroke="#5e3a3a" stroke-width="2.5" stroke-linecap="round"/><circle cx="9.3" cy="25.6" r="2.5" fill="#5e3a3a"/></g>
<rect x="33" y="468" width="129" height="1" fill="#5e3a42"/>
<rect x="33" y="473" width="129" height="1" fill="#5e3a42"/>
<rect x="33" y="478" width="129" height="1" fill="#5e3a42"/>
<rect x="33" y="483" width="129" height="1" fill="#5e3a42"/>
<rect x="33" y="488" width="129" height="1" fill="#5e3a42"/>
<g transform="translate(33,468)"><path d="M10.4,14.3 C8.2,13.6 8.3,10 11.2,9.4 C15,8.9 18,11.5 17.7,14.5 C17.4,18 14,19.6 10.5,19.4 C6.5,19.1 4.6,16 4.9,12.6 C5.2,9 9,6 12,3 C14,0.5 14.6,-3 13.9,-5.5 C13.4,-7.6 11.6,-8.3 10.5,-6.6 C9.3,-4.2 9.6,-1.5 10.4,2.5 L13.2,25 C13.5,27.6 11.5,28.6 9.8,27.6" fill="none" stroke="#5e3a3a" stroke-width="1.6"/><path d="M12.6,2.4 C10,5 7.5,7 6.2,9.2 C5.2,11 5.1,13.5 5.6,15.5 M10.6,-6 C9.8,-4 9.9,-1.5 10.4,1.5" fill="none" stroke="#5e3a3a" stroke-width="2.5" stroke-linecap="round"/><circle cx="9.3" cy="25.6" r="2.5" fill="#5e3a3a"/></g>
<g transform="translate(33,508)"><path d="M10.4,14.3 C8.2,13.6 8.3,10 11.2,9.4 C15,8.9 18,11.5 17.7,14.5 C17.4,18 14,19.6 10.5,19.4 C6.5,19.1 4.6,16 4.9,12.6 C5.2,9 9,6 12,3 C14,0.5 14.6,-3 13.9,-5.5 C13.4,-7.6 11.6,-8.3 10.5,-6.6 C9.3,-4.2 9.6,-1.5 10.4,2.5 L13.2,25 C13.5,27.6 11.5,28.6 9.8,27.6" fill="none" stroke="#5e3a3a" stroke-width="1.6"/><path d="M12.6,2.4 C10,5 7.5,7 6.2,9.2 C5.2,11 5.1,13.5 5.6,15.5 M10.6,-6 C9.8,-4 9.9,-1.5 10.4,1.5" fill="none" stroke="#5e3a3a" stroke-width="2.5" stroke-linecap="round"/><circle cx="9.3" cy="25.6" r="2.5" fill="#5e3a3a"/></g>
<g fill="#000"><rect x="91" y="380.7" width="1.1" height="14.3"/><rect x="93" y="379.9" width="1.1" height="14.3"/><g transform="translate(92.55,387.50)"><polygon points="-2.3,-1.4 2.9,-2.9 2.9,-5.0 -2.3,-3.5"/><polygon points="-2.3,4.0 2.9,2.5 2.9,0.4 -2.3,1.9"/></g></g>
<ellipse cx="99.8" cy="387.5" rx="3.25" ry="2.7" transform="rotate(-22 99.8 387.5)" fill="#000"/>
<rect x="103" y="373" width="1" height="15" fill="#000"/>
<g fill="#000"><rect x="115" y="388.9" width="1.1" height="14.3"/><rect x="117" y="388.1" width="1.1" height="14.3"/><g transform="translate(116.65,395.70)"><polygon points="-2.3,-1.4 2.9,-2.9 2.9,-5.0 -2.3,-3.5"/><polygon points="-2.3,4.0 2.9,2.5 2.9,0.4 -2.3,1.9"/></g></g>
<ellipse cx="123.9" cy="395.7" rx="3.25" ry="2.7" transform="rotate(-22 123.9 395.7)" fill="#000"/>
<rect x="127" y="381" width="1" height="15" fill="#000"/>
<g fill="#000"><rect x="103" y="429.0" width="1.1" height="14.3"/><rect x="105" y="428.2" width="1.1" height="14.3"/><g transform="translate(104.80,435.80)"><polygon points="-2.3,-1.4 2.9,-2.9 2.9,-5.0 -2.3,-3.5"/><polygon points="-2.3,4.0 2.9,2.5 2.9,0.4 -2.3,1.9"/></g></g>
<ellipse cx="106" cy="439.4" rx="3.25" ry="2.7" transform="rotate(-22 106 439.4)" fill="#000"/>
<rect x="109" y="425" width="1" height="14" fill="#000"/>
<ellipse cx="112.3" cy="434.9" rx="3.25" ry="2.7" transform="rotate(-22 112.3 434.9)" fill="#000"/>
<rect x="115" y="420" width="1" height="15" fill="#000"/>
<ellipse cx="117.9" cy="439.4" rx="3.25" ry="2.7" transform="rotate(-22 117.9 439.4)" fill="#000"/>
<rect x="121" y="425" width="1" height="14" fill="#000"/>
<g fill="#000"><rect x="127" y="433.2" width="1.1" height="14.3"/><rect x="130" y="432.4" width="1.1" height="14.3"/><g transform="translate(129.00,440.00)"><polygon points="-2.3,-1.4 2.9,-2.9 2.9,-5.0 -2.3,-3.5"/><polygon points="-2.3,4.0 2.9,2.5 2.9,0.4 -2.3,1.9"/></g></g>
<ellipse cx="130" cy="447" rx="3.25" ry="2.7" transform="rotate(-22 130 447)" fill="#000"/>
<rect x="133" y="432" width="1" height="15" fill="#000"/>
<ellipse cx="135.9" cy="442.2" rx="3.25" ry="2.7" transform="rotate(-22 135.9 442.2)" fill="#000"/>
<rect x="139" y="428" width="1" height="14" fill="#000"/>
<ellipse cx="141.9" cy="447.3" rx="3.25" ry="2.7" transform="rotate(-22 141.9 447.3)" fill="#000"/>
<rect x="145" y="433" width="1" height="14" fill="#000"/>
<g fill="#000"><rect x="152" y="433.2" width="1.1" height="14.3"/><rect x="154" y="432.4" width="1.1" height="14.3"/><g transform="translate(153.10,440.00)"><polygon points="-2.3,-1.4 2.9,-2.9 2.9,-5.0 -2.3,-3.5"/><polygon points="-2.3,4.0 2.9,2.5 2.9,0.4 -2.3,1.9"/></g></g>
<ellipse cx="154" cy="447" rx="3.25" ry="2.7" transform="rotate(-22 154 447)" fill="#000"/>
<rect x="157" y="432" width="1" height="15" fill="#000"/>
<ellipse cx="160.3" cy="442.2" rx="3.25" ry="2.7" transform="rotate(-22 160.3 442.2)" fill="#000"/>
<rect x="163" y="428" width="1" height="14" fill="#000"/>
<rect x="103" y="500" width="1" height="5" fill="#000"/>
</svg>
<circle cx="288.4" cy="249.6" r="11.7" fill="#0f4b9b" stroke="#000" stroke-width="1.5"/>
<polygon points="280.64,243.05 283.28,242.01 286.16,242.70 288.46,243.16 289.15,245.35 288.46,247.65 287.88,249.95 285.58,250.52 283.28,250.52 281.10,249.72 280.41,247.07" fill="#008a10" stroke="#000" stroke-width="0.9" stroke-linejoin="round"/>
<polygon points="283.59,252.50 287.04,252.27 289.69,253.08 290.26,255.95 289.57,258.83 287.62,260.32 285.32,260.32 283.94,258.25 283.48,255.38" fill="#008a10" stroke="#000" stroke-width="0.9" stroke-linejoin="round"/>
<polygon points="291.32,251.74 293.62,249.10 297.07,248.29 299.95,248.52 300.75,250.82 300.52,253.70 298.80,256.00 297.07,256.57 294.20,254.27 291.67,252.89" fill="#008a10" stroke="#000" stroke-width="0.9" stroke-linejoin="round"/>
<polygon points="293.45,241.44 295.75,240.29 297.70,242.25 299.08,245.12 298.05,247.19 295.40,247.42 293.68,245.69" fill="#008a10" stroke="#000" stroke-width="0.9" stroke-linejoin="round"/>
<polygon points="289.90,240.62 291.40,240.62 291.40,243.38 289.90,243.38" fill="#008a10" stroke="#000" stroke-width="0.9" stroke-linejoin="round"/>
<path d="M284,251.2 L291.5,251.8 M289,246 L292.5,250.5" stroke="#000" stroke-width="0.9" fill="none"/>
<polygon points="129.8,309 138.4,291.6 144.2,298.4 159.7,298.4 168.3,309" fill="#a0a0a0"/>
<path d="M129.8,309 L138.4,291.6" stroke="#000" stroke-width="1" stroke-dasharray="1.2,1" fill="none"/>
<path d="M138.4,291.6 L144.2,298.4 L159.7,298.4 L168.3,309" stroke="#000" stroke-width="1.1" fill="none"/>
<rect x="129" y="308" width="40" height="2" fill="#000"/>
<path d="M138.5,293 L138.5,308" stroke="#000" stroke-width="1" stroke-dasharray="1,1.2" fill="none"/>
<path d="M144.5,299.5 L144.5,308" stroke="#000" stroke-width="1" stroke-dasharray="1,1.2" fill="none"/>
<path d="M145.5,299.5 L145.5,308" stroke="#000" stroke-width="1" stroke-dasharray="1,1.2" fill="none"/>
<path d="M159.5,299.5 L159.5,308" stroke="#000" stroke-width="1" stroke-dasharray="1,1.2" fill="none"/>
<path d="M102,74h4v1h1v4h-1v1h-4v-1h-1v-4h1z" fill="url(#dot)"/>
<path d="M102,173h4v1h1v4h-1v1h-4v-1h-1v-4h1z" fill="url(#dot)"/>
<path d="M145,74h4v1h1v4h-1v1h-4v-1h-1v-4h1z" fill="url(#dot)"/>
<path d="M145,173h4v1h1v4h-1v1h-4v-1h-1v-4h1z" fill="url(#dot)"/>
<path d="M334,56h4v1h1v4h-1v1h-4v-1h-1v-4h1z" fill="url(#dot)"/>
<path d="M415,56h4v1h1v4h-1v1h-4v-1h-1v-4h1z" fill="url(#dot)"/>
<path d="M204,85h4v1h1v4h-1v1h-4v-1h-1v-4h1z" fill="url(#dot)"/>
<path d="M434,114h4v1h1v4h-1v1h-4v-1h-1v-4h1z" fill="url(#dot)"/>
<path d="M273,195h4v1h1v4h-1v1h-4v-1h-1v-4h1z" fill="url(#dot)"/>
<path d="M343,121h4v1h1v4h-1v1h-4v-1h-1v-4h1z" fill="url(#dot)"/>
<path d="M343,202h4v1h1v4h-1v1h-4v-1h-1v-4h1z" fill="url(#dot)"/>
<path d="M363,121h4v1h1v4h-1v1h-4v-1h-1v-4h1z" fill="url(#dot)"/>
<path d="M363,202h4v1h1v4h-1v1h-4v-1h-1v-4h1z" fill="url(#dot)"/>
<path d="M383,121h4v1h1v4h-1v1h-4v-1h-1v-4h1z" fill="url(#dot)"/>
<path d="M383,202h4v1h1v4h-1v1h-4v-1h-1v-4h1z" fill="url(#dot)"/>
<path d="M403,121h4v1h1v4h-1v1h-4v-1h-1v-4h1z" fill="url(#dot)"/>
<path d="M403,202h4v1h1v4h-1v1h-4v-1h-1v-4h1z" fill="url(#dot)"/>
<path d="M263,230h4v1h1v4h-1v1h-4v-1h-1v-4h1z" fill="url(#dot)"/>
<path d="M278,230h4v1h1v4h-1v1h-4v-1h-1v-4h1z" fill="url(#dot)"/>
<path d="M293,230h4v1h1v4h-1v1h-4v-1h-1v-4h1z" fill="url(#dot)"/>
<path d="M308,230h4v1h1v4h-1v1h-4v-1h-1v-4h1z" fill="url(#dot)"/>
<path d="M286,279h4v1h1v4h-1v1h-4v-1h-1v-4h1z" fill="url(#dot)"/>
<path d="M122,283h4v1h1v4h-1v1h-4v-1h-1v-4h1z" fill="url(#dot)"/>
<path d="M147,283h4v1h1v4h-1v1h-4v-1h-1v-4h1z" fill="url(#dot)"/>
<path d="M172,283h4v1h1v4h-1v1h-4v-1h-1v-4h1z" fill="url(#dot)"/>
<path d="M147,326h4v1h1v4h-1v1h-4v-1h-1v-4h1z" fill="url(#dot)"/>
<path d="M74,354h4v1h1v4h-1v1h-4v-1h-1v-4h1z" fill="url(#dot)"/>
<path d="M74,507h4v1h1v4h-1v1h-4v-1h-1v-4h1z" fill="url(#dot)"/>
<path d="M118,354h4v1h1v4h-1v1h-4v-1h-1v-4h1z" fill="url(#dot)"/>
<path d="M118,507h4v1h1v4h-1v1h-4v-1h-1v-4h1z" fill="url(#dot)"/>
<path d="M372,305h4v1h1v4h-1v1h-4v-1h-1v-4h1z" fill="url(#dot)"/>
<path d="M372,496h4v1h1v4h-1v1h-4v-1h-1v-4h1z" fill="url(#dot)"/>
<path d="M505,305h4v1h1v4h-1v1h-4v-1h-1v-4h1z" fill="url(#dot)"/>
<path d="M505,496h4v1h1v4h-1v1h-4v-1h-1v-4h1z" fill="url(#dot)"/>
</svg></body></html>
